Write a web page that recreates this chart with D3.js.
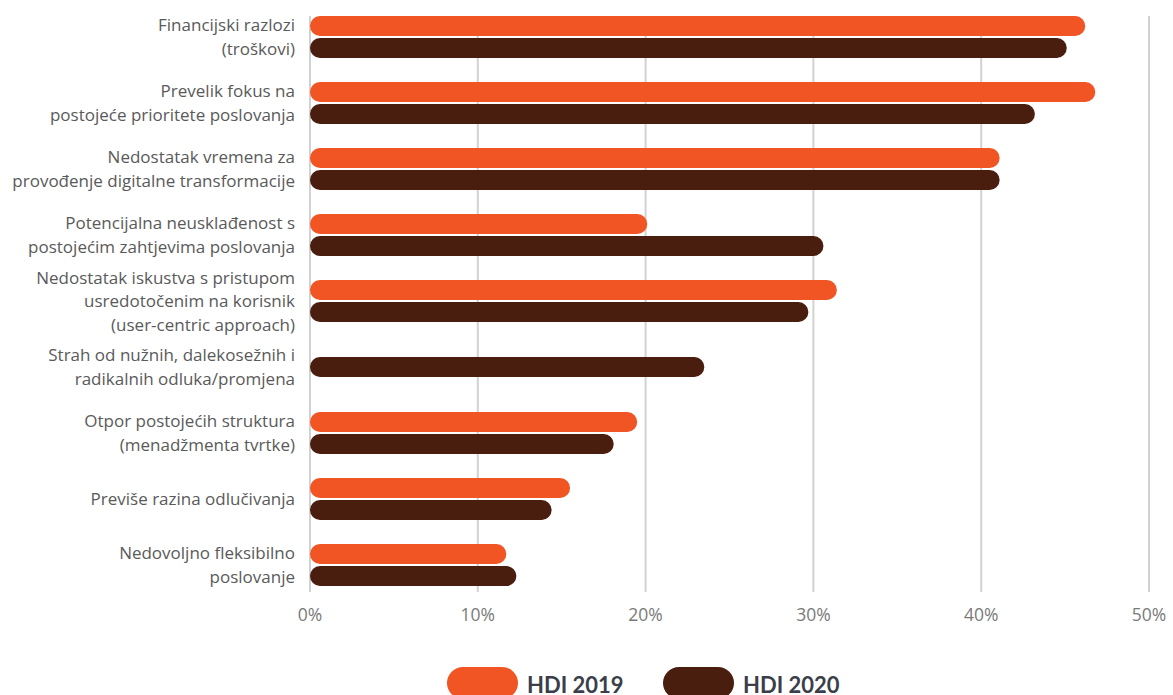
<!doctype html>
<html lang="hr">
<head>
<meta charset="utf-8">
<script src="https://d3js.org/d3.v7.min.js"></script>
<title>HDI 2019 / 2020</title>
<style>
  html, body { margin: 0; padding: 0; background: #fff; }
  svg { display: block; }
  .label { font-family: "Open Sans", Lato, sans-serif; font-size: 17px; fill: #5a5a5a; }
  .tick-label { font-family: "Open Sans", Lato, sans-serif; font-size: 17.5px; fill: #7a7a7a; }
  .legend-label { font-family: Lato, "Open Sans", sans-serif; font-size: 22px; font-weight: 700; fill: #3b3f4a; }
</style>
</head>
<body>
<div id="chart"></div>
<script>
// categories (label lines)
const categories = [
  ["Financijski razlozi", "(troškovi)"],
  ["Prevelik fokus na", "postojeće prioritete poslovanja"],
  ["Nedostatak vremena za", "provođenje digitalne transformacije"],
  ["Potencijalna neusklađenost s", "postojećim zahtjevima poslovanja"],
  ["Nedostatak iskustva s pristupom", "usredotočenim na korisnik", "(user-centric approach)"],
  ["Strah od nužnih, dalekosežnih i", "radikalnih odluka/promjena"],
  ["Otpor postojećih struktura", "(menadžmenta tvrtke)"],
  ["Previše razina odlučivanja"],
  ["Nedovoljno fleksibilno", "poslovanje"]
];

const series = ["HDI 2019", "HDI 2020"];
const hdi2019 = [46.2, 46.8, 41.1, 20.1, 31.4, null, 19.5, 15.5, 11.7];
const hdi2020 = [45.1, 43.2, 41.1, 30.6, 29.7, 23.5, 18.1, 14.4, 12.3];
const xTicks = [0, 10, 20, 30, 40, 50];

const colors = { "HDI 2019": "#f15524", "HDI 2020": "#4a1e0f" };

const width = 1173, height = 695;

const svg = d3.select('#chart').append('svg')
  .attr('width', width)
  .attr('height', height);

const x = d3.scaleLinear().domain([0, 50]).range([310, 1149]);

const keys = categories.map((c, i) => i);
const y = d3.scaleBand().domain(keys).range([4, 598]).padding(0);
const yInner = d3.scaleBand().domain(series).range([0, 42]).paddingInner(0.1);
const bw = yInner.bandwidth();

// gridlines
svg.append('g')
  .selectAll('line')
  .data(xTicks)
  .join('line')
  .attr('x1', d => x(d)).attr('x2', d => x(d))
  .attr('y1', 16).attr('y2', 592)
  .attr('stroke', '#d2d2d2')
  .attr('stroke-width', 2);

// tick labels
svg.append('g')
  .selectAll('text')
  .data(xTicks)
  .join('text')
  .attr('class', 'tick-label')
  .attr('x', d => x(d))
  .attr('y', 621)
  .attr('text-anchor', 'middle')
  .text(d => d + '%');

// bars
const rows = keys.map(i => {
  const vals = [
    { key: "HDI 2019", v: hdi2019[i] },
    { key: "HDI 2020", v: hdi2020[i] }
  ].filter(d => d.v != null);
  return { i, vals };
});

const center = i => y(i) + y.bandwidth() / 2;

const groups = svg.append('g')
  .selectAll('g')
  .data(rows)
  .join('g');

groups.selectAll('rect')
  .data(r => r.vals.map(d => ({ ...d, i: r.i, single: r.vals.length === 1 })))
  .join('rect')
  .attr('x', x(0))
  .attr('y', d => d.single ? center(d.i) - bw / 2 : center(d.i) - 21 + yInner(d.key))
  .attr('width', d => x(d.v) - x(0))
  .attr('height', bw)
  .attr('rx', bw / 2)
  .attr('fill', d => colors[d.key]);

// category labels
const lineH = 23.5;
svg.append('g')
  .selectAll('text')
  .data(keys)
  .join('text')
  .attr('class', 'label')
  .attr('text-anchor', 'end')
  .each(function(i) {
    const lines = categories[i];
    const t = d3.select(this);
    const y0 = center(i) - (lines.length - 1) * lineH / 2 + 6;
    lines.forEach((l, k) => {
      t.append('tspan')
        .attr('x', 295)
        .attr('y', y0 + k * lineH)
        .text(l);
    });
  });

// legend
const legend = svg.append('g');
const legendX = [447, 663];
series.forEach((s, k) => {
  legend.append('rect')
    .attr('x', legendX[k])
    .attr('y', 667)
    .attr('width', 71)
    .attr('height', 32)
    .attr('rx', 16)
    .attr('fill', colors[s]);
  legend.append('text')
    .attr('class', 'legend-label')
    .attr('x', legendX[k] + 80)
    .attr('y', 693)
    .text(s);
});
</script>
</body>
</html>
